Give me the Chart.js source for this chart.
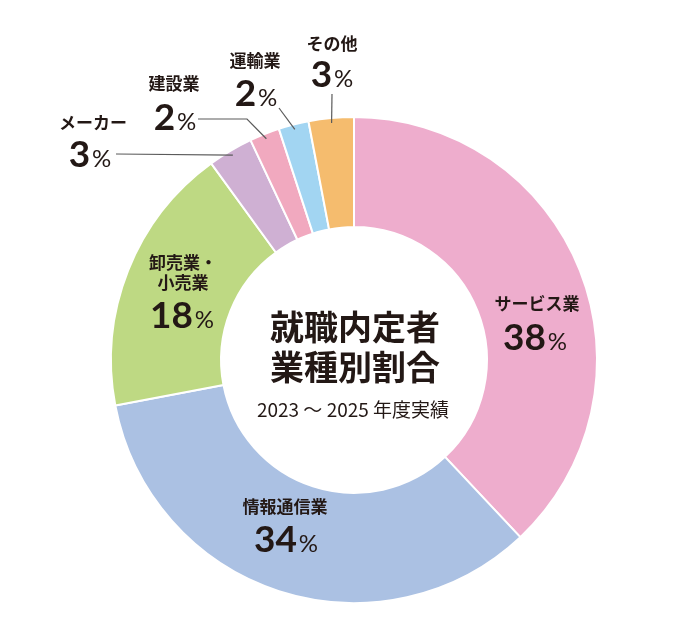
<!DOCTYPE html>
<html lang="ja">
<head>
<meta charset="utf-8">
<script src="https://cdn.jsdelivr.net/npm/chart.js@4"></script>
<style>
  html, body { margin: 0; padding: 0; background: #fff; }
  canvas { display: block; }
</style>
</head>
<body>
<canvas id="chart" width="680" height="635"></canvas>
<script>
// data
const categories = ['サービス業', '情報通信業', '卸売業・小売業', 'メーカー', '建設業', '運輸業', 'その他'];
const values = [38, 34, 18, 3, 2, 2, 3];
const colors = ['#eeadcd', '#abc1e3', '#bed983', '#cfb0d3', '#f1a9bf', '#a2d5f2', '#f5bc6e'];

const titleLines = ['就職内定者', '業種別割合'];
const subtitle = '2023 ～ 2025 年度実績';

// label layout, offsets from the doughnut centre
const labelLayout = [
    { lines: ['サービス業'], name: [183, -56], pct: [181, -10] },
    { lines: ['情報通信業'], name: [-69, 147], pct: [-68, 192] },
    { lines: ['卸売業・', '小売業'], name: [-171, -97], pct: [-172, -32] },
    { lines: ['メーカー'], name: [-261, -237], pct: [-264, -193], leader: [[-238, -206]] },
    { lines: ['建設業'], name: [-180, -276], pct: [-179, -230], leader: [[-156, -241], [-107, -241]] },
    { lines: ['運輸業'], name: [-99, -299], pct: [-98, -254], leader: [[-75, -252]] },
    { lines: ['その他'], name: [-22, -316], pct: [-22, -273], leader: [[-22, -266]] }
];

const ink = '#231815';
const jpFont = '"Noto Sans CJK JP", "Noto Sans", sans-serif';
const numFont = 'Lato, "Noto Sans", sans-serif';

function drawPct(ctx, text, cx, baseline) {
    const num = text.replace('%', '');
    ctx.font = '700 37px ' + numFont;
    const w1 = ctx.measureText(num).width;
    ctx.font = '400 24px ' + numFont;
    const w2 = ctx.measureText('%').width;
    const gap = 2;
    let x = cx - (w1 + gap + w2) / 2;
    ctx.textAlign = 'left';
    ctx.textBaseline = 'alphabetic';
    ctx.font = '700 37px ' + numFont;
    ctx.fillText(num, x, baseline);
    ctx.font = '400 24px ' + numFont;
    ctx.fillText('%', x + w1 + gap, baseline);
}

const labelPlugin = {
    id: 'sliceLabels',
    afterDraw(chart) {
        const ctx = chart.ctx;
        const meta = chart.getDatasetMeta(0);
        ctx.save();
        ctx.fillStyle = ink;
        meta.data.forEach((arc, i) => {
            const p = arc.getProps(['x', 'y', 'startAngle', 'endAngle', 'outerRadius']);
            const lay = labelLayout[i];
            const cx = p.x, cy = p.y;

            // leader line into the slice
            if (lay.leader) {
                const mid = (p.startAngle + p.endAngle) / 2;
                const r = p.outerRadius - 5;
                ctx.beginPath();
                ctx.strokeStyle = '#5b5b5b';
                ctx.lineWidth = 1.2;
                lay.leader.forEach((pt, k) => {
                    if (k == 0) ctx.moveTo(cx + pt[0], cy + pt[1]);
                    else ctx.lineTo(cx + pt[0], cy + pt[1]);
                });
                ctx.lineTo(cx + Math.cos(mid) * r, cy + Math.sin(mid) * r);
                ctx.stroke();
            }

            ctx.font = '700 17px ' + jpFont;
            ctx.textAlign = 'center';
            ctx.textBaseline = 'middle';
            lay.lines.forEach((line, k) => {
                ctx.fillText(line, cx + lay.name[0], cy + lay.name[1] + k * 20);
            });
            drawPct(ctx, values[i] + '%', cx + lay.pct[0], cy + lay.pct[1]);
        });

        // centre title
        const c = meta.data[0];
        ctx.textAlign = 'center';
        ctx.textBaseline = 'middle';
        ctx.font = '700 34px ' + jpFont;
        ctx.fillText(titleLines[0], c.x + 1, c.y - 33);
        ctx.fillText(titleLines[1], c.x + 1, c.y + 7);
        ctx.font = '400 19px ' + jpFont;
        ctx.fillText(subtitle, c.x - 1, c.y + 50);
        ctx.restore();
    }
};

const config = {
    type: 'doughnut',
    data: {
        labels: categories,
        datasets: [{
            data: values,
            backgroundColor: colors,
            borderColor: '#ffffff',
            borderWidth: 2
        }]
    },
    options: {
        responsive: false,
        animation: false,
        cutout: '54.7%',
        layout: {
            padding: { left: 110, right: 82, top: 116, bottom: 31 }
        },
        plugins: {
            legend: { display: false },
            tooltip: { enabled: false }
        }
    },
    plugins: [labelPlugin]
};

const myChart = new Chart(document.getElementById('chart'), config);
</script>
</body>
</html>
